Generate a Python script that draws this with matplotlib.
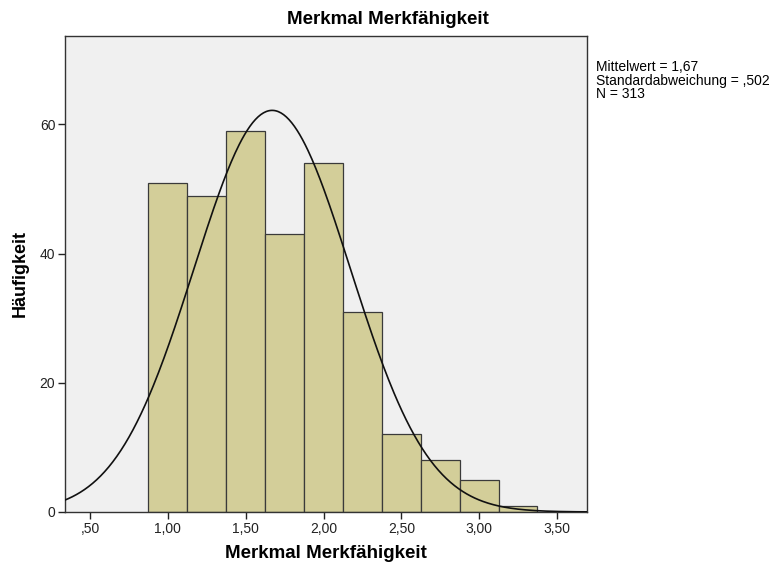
import numpy as np
import matplotlib
matplotlib.use('Agg')
import matplotlib.pyplot as plt
from matplotlib.ticker import FixedLocator, FuncFormatter

# Daten aus dem Histogramm
bin_kanten = [0.875, 1.125, 1.375, 1.625, 1.875, 2.125, 2.375, 2.625, 2.875, 3.125, 3.375]
haeufigkeiten = [51, 49, 59, 43, 54, 31, 12, 8, 5, 1]
mittelwert = 1.67
standardabweichung = 0.502
n = 313

plt.rcParams['font.family'] = ['Liberation Sans', 'DejaVu Sans']

fig = plt.figure(figsize=(7.75, 5.7), dpi=100)
ax = fig.add_axes([0.0839, 0.1018, 0.6735, 0.835])
ax.set_facecolor('#F0F0F0')

breiten = np.diff(bin_kanten)
ax.bar(bin_kanten[:-1], haeufigkeiten, width=breiten, align='edge',
       color='#D3CE99', edgecolor='#3A3A3A', linewidth=0.9, zorder=2)

# Normalverteilungskurve
x = np.linspace(0.3, 3.75, 400)
skala = n * breiten[0]
y = skala / (standardabweichung * np.sqrt(2 * np.pi)) * np.exp(-0.5 * ((x - mittelwert) / standardabweichung) ** 2)
ax.plot(x, y, color='#111111', linewidth=1.2, zorder=3)

ax.set_xlim(0.339, 3.693)
ax.set_ylim(0, 73.7)

ax.xaxis.set_major_locator(FixedLocator([0.5, 1.0, 1.5, 2.0, 2.5, 3.0, 3.5]))
ax.yaxis.set_major_locator(FixedLocator([0, 20, 40, 60]))


def x_format(v, pos):
    s = f'{v:.2f}'.replace('.', ',')
    if s.startswith('0'):
        s = s[1:]
    return s


ax.xaxis.set_major_formatter(FuncFormatter(x_format))
ax.yaxis.set_major_formatter(FuncFormatter(lambda v, pos: f'{int(v)}'))
ax.tick_params(direction='out', length=5, width=1, colors='#222222', labelsize=10, pad=2)

for s in ax.spines.values():
    s.set_color('#333333')
    s.set_linewidth(1.0)

ax.set_xlabel('Merkmal Merkfähigkeit', fontsize=13.5, fontweight='bold', labelpad=7)
ax.set_ylabel('Häufigkeit', fontsize=13, fontweight='bold', labelpad=8)
fig.text(0.501, 0.966, 'Merkmal Merkfähigkeit', ha='center', va='center',
         fontsize=13.5, fontweight='bold')

statistik = (f'Mittelwert = {mittelwert:.2f}'.replace('.', ',') + '\n'
             + 'Standardabweichung = ,502\n'
             + f'N = {n}')
fig.text(0.769, 0.894, statistik, ha='left', va='top', fontsize=10,
         family=['Liberation Sans Narrow', 'Liberation Sans'], linespacing=0.93)

fig.savefig('out.png', dpi=100)
